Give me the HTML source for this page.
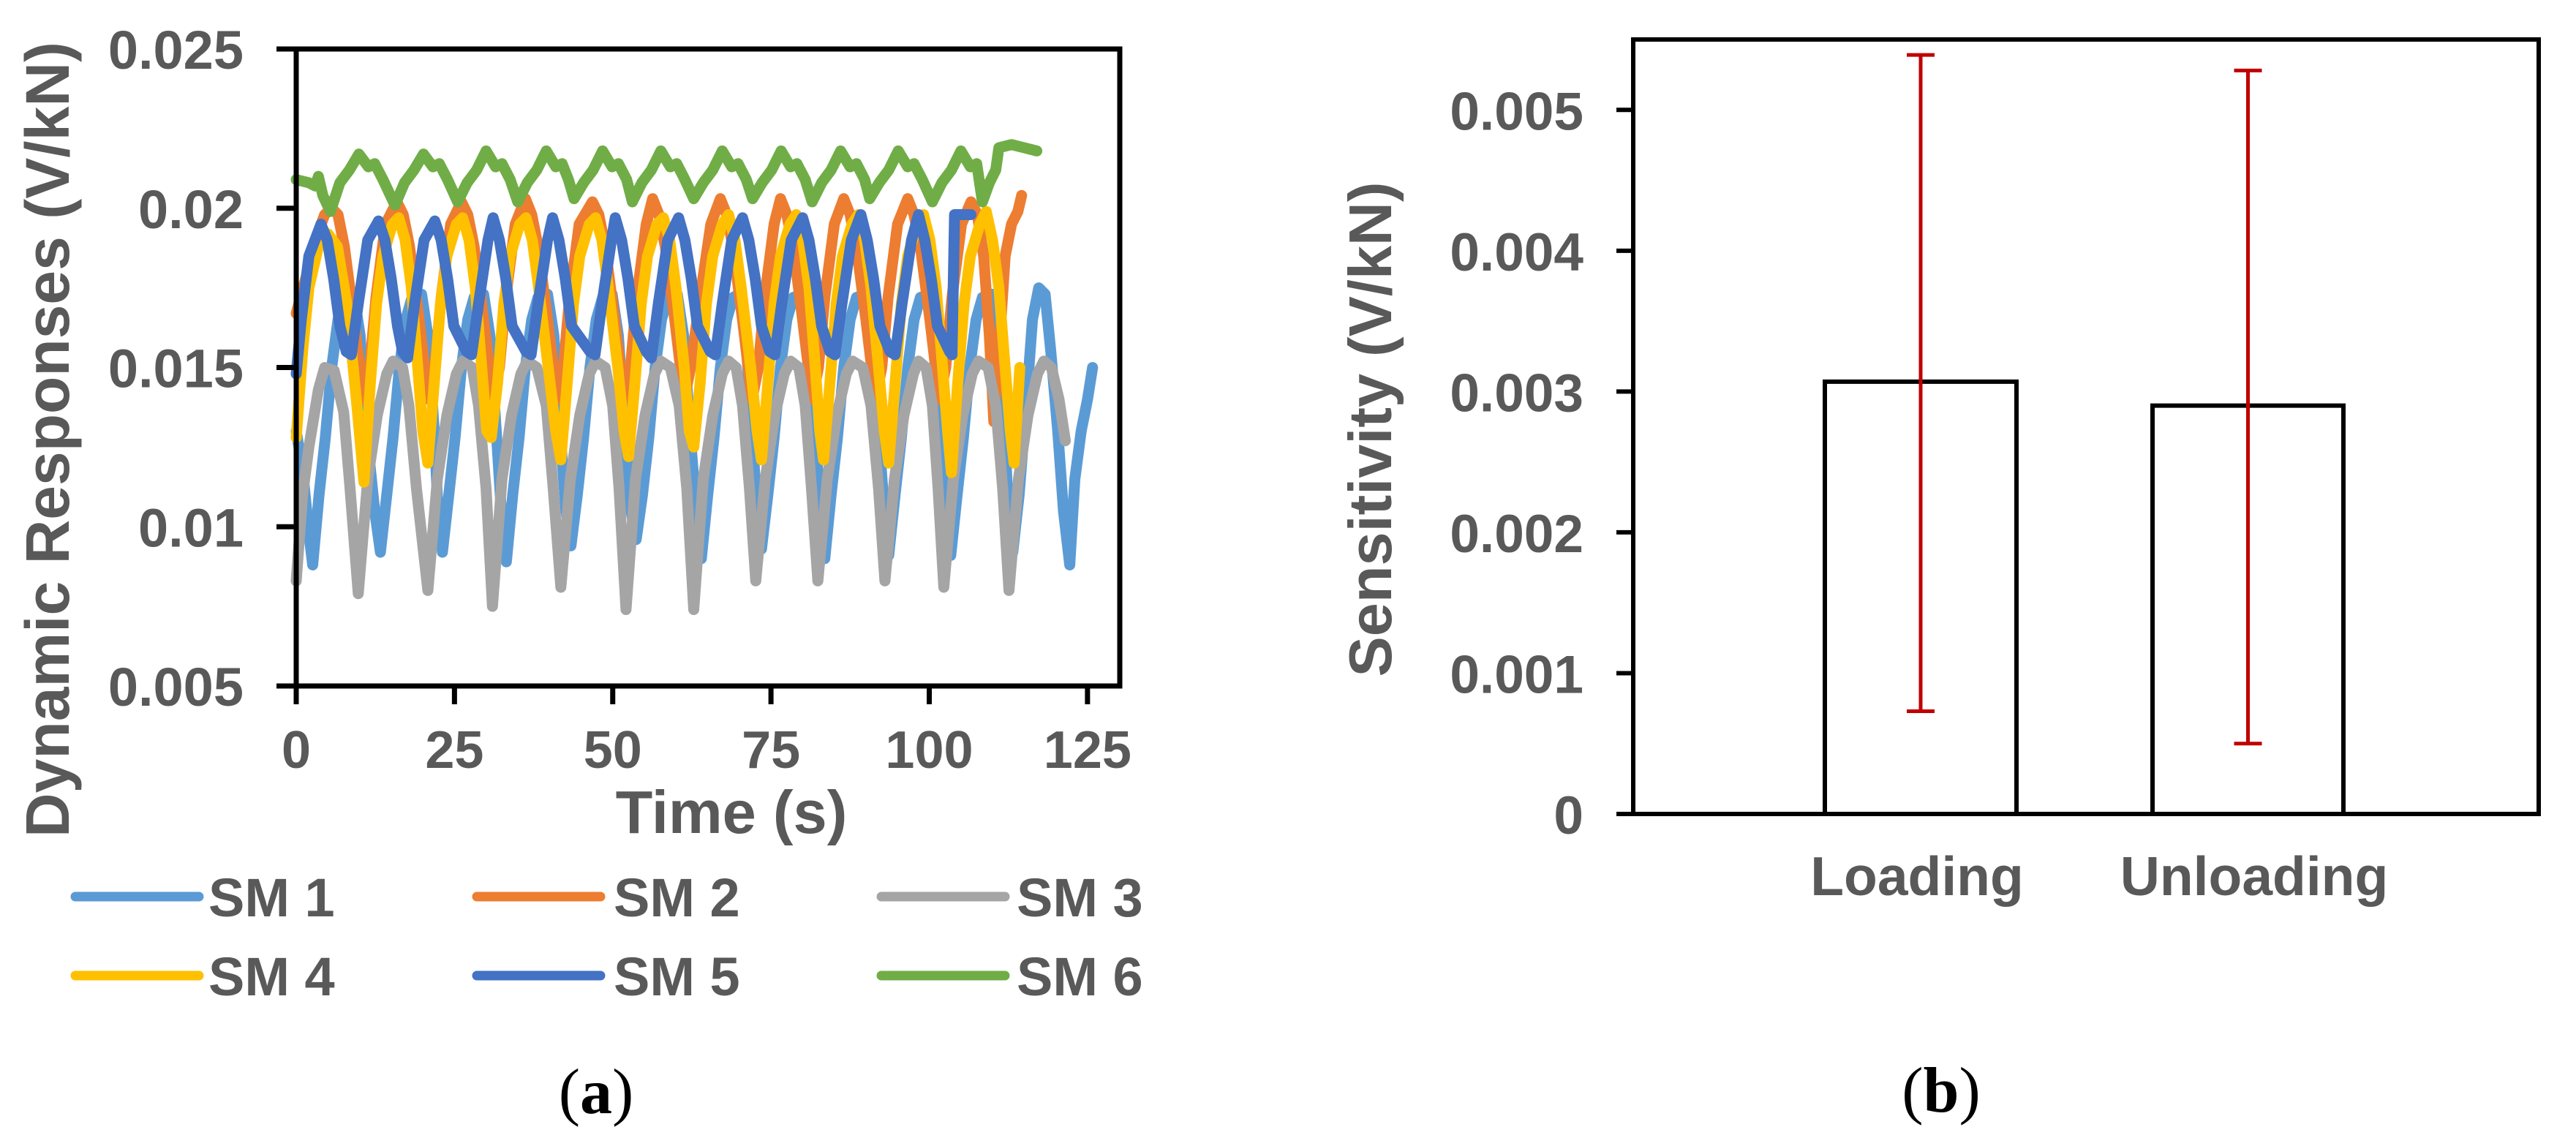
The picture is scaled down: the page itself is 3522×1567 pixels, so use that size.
<!DOCTYPE html>
<html><head><meta charset="utf-8"><style>
html,body{margin:0;padding:0;background:#fff;}
svg{display:block;}
text{font-family:"Liberation Sans",Arial,sans-serif;font-weight:bold;fill:#595959;}
.serif{font-family:"Liberation Serif","Times New Roman",serif;fill:#000;font-weight:normal;}
</style></head><body>
<svg id="fig" width="3522" height="1567" viewBox="0 0 3522 1567" xmlns="http://www.w3.org/2000/svg">
<g id="panelA"></g>
<g id="panelB"></g>
<text class="serif" x="815" y="1522" font-size="88" text-anchor="middle">(<tspan font-weight="bold">a</tspan>)</text>
<text class="serif" x="2654" y="1520" font-size="88" text-anchor="middle">(<tspan font-weight="bold">b</tspan>)</text>
</svg>
<script>
// ---------- Panel A data ----------
const seriesNames = ["SM 1","SM 2","SM 3","SM 4","SM 5","SM 6"];
const seriesColors = ["#5B9BD5","#ED7D31","#A5A5A5","#FFC000","#4472C4","#70AD47"];
const xTicks = [0,25,50,75,100,125];
const yTicks = [0.005,0.01,0.015,0.02,0.025];
const yTickLabels = ["0.005","0.01","0.015","0.02","0.025"];

const sm1T = [0,1,2, 2.6,3.6,4.6,5.6,6.6,7.6,9.1,10.1,11.1,12.4, 13.3,14.3,15.3,16.3,17.3,18.3,19.8,20.8,21.8,22.4, 23.1,24.1,25.1,26.1,27.1,28.1,29.6,30.6,31.6,32.4, 33.2,34.2,35.2,36.2,37.2,38.2,39.7,40.7,41.7,42.6, 43.4,44.4,45.4,46.4,47.4,48.4,49.9,50.9,51.9,52.9, 53.7,54.7,55.7,56.7,57.7,58.7,60.2,61.2,62.2,63.2, 64.0,65.0,66.0,67.0,68.0,69.0,70.0,71.0,72.0,72.8, 73.5,74.5,75.5,76.5,77.5,78.5,80.0,81.0,82.0,82.8, 83.5,84.5,85.5,86.5,87.5,88.5,90.0,91.0,92.0,92.9, 93.6,94.6,95.6,96.6,97.6,98.6,100.1,101.1,102.1,102.7, 103.4,104.4,105.4,106.4,107.4,108.4,109.9,110.9,111.9,112.5, 113.2,114.2,115.2,116.3,117.3,118.3,119.2,120.3,121.2, 122.2,123,124,125,125.8];
const sm1V = [.0130,.0118,.0098, .0088,.0110,.0128,.0150,.0165,.0172,.0173,.0160,.0130,.0105, .0092,.0110,.0128,.0150,.0165,.0172,.0173,.0160,.0130,.0105, .0092,.0110,.0128,.0150,.0165,.0172,.0173,.0160,.0130,.0105, .0089,.0110,.0128,.0150,.0165,.0172,.0173,.0160,.0130,.0105, .0094,.0110,.0128,.0150,.0165,.0172,.0173,.0160,.0130,.0105, .0096,.0110,.0128,.0150,.0165,.0172,.0173,.0160,.0130,.0105, .0090,.0110,.0128,.0150,.0165,.0172,.0173,.0160,.0130,.0105, .0093,.0110,.0128,.0150,.0165,.0172,.0173,.0160,.0130,.0105, .0090,.0110,.0128,.0150,.0165,.0172,.0173,.0160,.0130,.0105, .0091,.0110,.0128,.0150,.0165,.0172,.0173,.0160,.0130,.0105, .0091,.0110,.0128,.0150,.0165,.0172,.0173,.0160,.0130,.0105, .0092,.0110,.0135,.0165,.0175,.0173,.0155,.0130,.0105, .0088,.0115,.0130,.0140,.0150];

const sm2T = [0,1.5,3,4.5, 5.6,6.6,7.6,9.1,10.6,11.6,12.6,14.1, 15.9,16.9,17.9,19.4,20.9,21.9,22.9,24.4, 26.1,27.1,28.1,29.6,31.1,32.1,33.1,34.6, 36.2,37.2,38.2,39.7,41.2,42.2,43.2,44.7, 46.8,47.8,48.8,50.3,51.8,52.8,53.8,55.3, 56.3,57.3,58.3,59.8,61.3,62.3,63.8,65.5, 67.0,68.0,69.0,70.5,72.0,73.0,74.0,75.5, 76.5,77.5,78.5,80.0,81.5,82.5,83.5,85.0, 86.5,87.5,88.5,90.0,91.5,92.5,93.5,95.0, 96.6,97.6,98.6,100.1,101.6,102.6,103.6,105.1, 106.6,107.6,108.6,109.5,110.2,111,112,113,114,114.6];
const sm2V = [.0167,.0178,.0190,.0198, .0200,.0198,.0188,.0165,.0140,.0150,.0172,.0195, .0202,.0198,.0188,.0165,.0140,.0150,.0172,.0195, .0202,.0198,.0188,.0165,.0141,.0150,.0172,.0195, .0203,.0198,.0188,.0165,.0140,.0150,.0172,.0195, .0202,.0198,.0188,.0165,.0140,.0150,.0172,.0195, .0203,.0198,.0188,.0165,.0140,.0150,.0172,.0195, .0203,.0198,.0188,.0165,.0140,.0150,.0172,.0195, .0203,.0198,.0188,.0165,.0140,.0150,.0172,.0195, .0203,.0198,.0188,.0165,.0140,.0150,.0172,.0195, .0203,.0198,.0188,.0165,.0140,.0150,.0172,.0195, .0202,.0198,.0185,.0160,.0133,.0155,.0185,.0195,.0199,.0204];

const sm3T = [0,1,2,3.5,4.5,6,7.5,8.5, 9.8,11.3,12.8,14.3,15.3,16.8,17.8,19.0, 20.8,22.3,23.8,25.3,26.3,27.8,28.8,30.0, 31.0,32.5,34.0,35.5,36.5,38.0,39.5,40.6, 41.8,43.3,44.8,46.3,47.3,48.8,50.0,51.0, 52.1,53.6,55.1,56.6,57.6,59.1,60.5,61.7, 62.8,64.3,65.8,67.3,68.3,69.5,70.5,71.6, 72.6,74.1,75.6,77.1,78.1,79.4,80.4,81.4, 82.4,83.9,85.4,86.9,87.9,89.5,90.8,92.0, 93.0,94.5,96.0,97.5,98.3,99.5,100.5,101.4, 102.3,103.8,105.3,106.8,107.8,109.3,110.5,111.6, 112.6,114.1,115.6,117.1,118.1,119.3,120.5,121.5];
const sm3V = [.0083,.0110,.0125,.0143,.0150,.0149,.0136,.0112, .0079,.0115,.0135,.0148,.0152,.0150,.0138,.0112, .0080,.0115,.0135,.0148,.0152,.0150,.0138,.0112, .0075,.0115,.0135,.0148,.0152,.0150,.0138,.0112, .0081,.0115,.0135,.0148,.0152,.0150,.0138,.0112, .0074,.0115,.0135,.0148,.0152,.0150,.0138,.0112, .0074,.0115,.0135,.0148,.0152,.0150,.0138,.0112, .0083,.0115,.0135,.0148,.0152,.0150,.0138,.0112, .0083,.0115,.0135,.0148,.0152,.0150,.0138,.0112, .0083,.0115,.0135,.0148,.0152,.0150,.0138,.0112, .0081,.0115,.0135,.0148,.0152,.0150,.0138,.0112, .0080,.0115,.0135,.0148,.0152,.0150,.0140,.0127];

const sm4T = [0,1,2,3.5,5,6.5,8,9.5, 10.7,11.7,12.7,13.7,15.2,16.2,17.2,18.2,19.2,20.0, 20.8,21.8,22.8,23.8,25.3,26.3,27.3,28.3,29.3,30.1, 30.8,31.8,32.8,33.8,35.3,36.3,37.3,38.3,39.8,41.0, 41.8,42.8,43.8,44.8,46.3,47.3,48.3,49.3,50.8,51.8, 52.5,53.5,54.5,55.5,57.0,58.0,59.0,60.0,61.3,62.1, 62.8,63.8,64.8,65.8,67.3,68.3,69.3,70.3,71.8,72.8, 73.5,74.5,75.5,76.5,78.0,79.0,80.0,81.0,82.0,82.7, 83.3,84.3,85.3,86.3,87.8,88.8,89.8,90.8,92.0,92.9, 93.6,94.6,95.6,96.6,98.1,99.1,100.1,101.1,102.1,102.9, 103.5,104.5,105.5,106.5,108.0,109.0,110.0,111.0,112.0,112.8, 113.4,114.3];
const sm4V = [.0128,.0155,.0175,.0188,.0192,.0188,.0170,.0140, .0114,.0145,.0170,.0185,.0195,.0197,.0190,.0175,.0150,.0130, .0120,.0145,.0170,.0185,.0195,.0197,.0190,.0175,.0150,.0130, .0128,.0145,.0170,.0185,.0195,.0197,.0190,.0175,.0150,.0130, .0121,.0145,.0170,.0185,.0195,.0197,.0190,.0175,.0150,.0130, .0122,.0145,.0170,.0185,.0195,.0197,.0190,.0175,.0150,.0130, .0125,.0145,.0170,.0185,.0195,.0198,.0190,.0175,.0150,.0130, .0121,.0145,.0170,.0185,.0195,.0198,.0190,.0175,.0150,.0130, .0121,.0145,.0170,.0185,.0195,.0198,.0190,.0175,.0150,.0130, .0120,.0145,.0170,.0185,.0195,.0198,.0190,.0175,.0150,.0130, .0117,.0145,.0170,.0185,.0195,.0199,.0190,.0175,.0150,.0130, .0120,.0150];

const sm5T = [0,0.8,2, 3.9,4.9,5.9,6.9,7.9,8.7,9.8,11.3, 13.0,14.0,15.0,16.0,16.8,17.6,18.7,20.2, 21.9,22.9,23.9,24.9,26.9,27.7,28.8,30.3, 31.1,32.1,33.1,34.1,36.3,37.1,38.2,39.7, 40.5,41.5,42.5,43.5,46.4,47.2,48.3,49.8, 50.4,51.4,52.4,53.4,55.3,56.1,57.2,58.7, 60.4,61.4,62.4,63.4,65.4,66.2,67.3,68.8, 70.5,71.5,72.5,73.5,74.8,75.6,76.7,78.2, 80.0,81.0,82.0,83.0,84.3,85.1,86.2,87.7, 89.2,90.2,91.2,92.2,93.8,94.6,95.7,97.2, 98.3,99.3,100.3,101.3,103.2,103.6,104.0,106.6];
const sm5V = [.0148,.0165,.0185, .0195,.0190,.0178,.0163,.0155,.0154,.0170,.0190, .0196,.0190,.0178,.0163,.0155,.0153,.0170,.0190, .0196,.0190,.0178,.0163,.0155,.0154,.0170,.0190, .0197,.0190,.0178,.0163,.0155,.0154,.0170,.0190, .0197,.0190,.0178,.0163,.0155,.0154,.0170,.0190, .0197,.0190,.0178,.0163,.0155,.0153,.0170,.0190, .0197,.0190,.0178,.0163,.0155,.0154,.0170,.0190, .0197,.0190,.0178,.0163,.0155,.0154,.0170,.0190, .0197,.0190,.0178,.0163,.0155,.0154,.0170,.0190, .0198,.0190,.0178,.0163,.0155,.0154,.0170,.0190, .0198,.0190,.0178,.0163,.0155,.0154,.0198,.0198];

const sm6T = [0,2,3,3.5,4.2, 5.4,6.9,8.4,9.9,11.4,12.4,13.7, 15.6,17.1,18.6,20.1,21.6,22.6,23.9, 25.5,27.0,28.5,30.0,31.5,32.5,33.8, 35.0,36.5,38.0,39.5,41.0,42.0,43.0, 43.9,45.4,46.9,48.4,49.9,50.9,52.2, 53.1,54.6,56.1,57.6,59.1,60.1,61.4, 62.8,64.3,65.8,67.3,68.8,69.8,71.1, 72.1,73.6,75.1,76.6,78.1,79.1,80.4, 81.5,83.0,84.5,86.0,87.5,88.5,89.8, 90.6,92.1,93.6,95.1,96.6,97.6,98.9, 100.5,102.0,103.5,105.0,106.5,107.5, 108.4,109.5,110.5,111,113,115,117];
const sm6V = [.0209,.0208,.0207,.0210,.0204, .0199,.0208,.0212,.0217,.0213,.0214,.0209, .0201,.0208,.0212,.0217,.0213,.0214,.0209, .0202,.0208,.0212,.0218,.0213,.0214,.0209, .0202,.0208,.0212,.0218,.0213,.0214,.0209, .0203,.0208,.0212,.0218,.0213,.0214,.0209, .0202,.0208,.0212,.0218,.0213,.0214,.0209, .0203,.0208,.0212,.0218,.0213,.0214,.0209, .0203,.0208,.0212,.0218,.0213,.0214,.0209, .0202,.0208,.0212,.0218,.0213,.0214,.0209, .0203,.0208,.0212,.0218,.0213,.0214,.0209, .0202,.0208,.0212,.0218,.0213,.0214, .0202,.0208,.0212,.0219,.0220,.0219,.0218];

const seriesT = [sm1T,sm2T,sm3T,sm4T,sm5T,sm6T];
const seriesV = [sm1V,sm2V,sm3V,sm4V,sm5V,sm6V];

// ---------- Panel B data ----------
const barCategories = ["Loading","Unloading"];
const barValues = [0.00307,0.00290];
const errHigh = [0.00539,0.00528];
const errLow = [0.00073,0.00050];
const bTicks = [0,0.001,0.002,0.003,0.004,0.005];
const bTickLabels = ["0","0.001","0.002","0.003","0.004","0.005"];

const NS="http://www.w3.org/2000/svg";
function mk(tag, attrs, parent){const e=document.createElementNS(NS,tag);for(const k in attrs)e.setAttribute(k,attrs[k]);parent.appendChild(e);return e;}

// Panel A axes
const A={x0:405,x1:1531,y0:67,y1:938,tMax:130.1,vMin:0.005,vMax:0.025};
const ax=t=>A.x0+t/A.tMax*(A.x1-A.x0);
const ay=v=>A.y1-(v-A.vMin)/(A.vMax-A.vMin)*(A.y1-A.y0);
const gA=document.getElementById('panelA');

for(let s=0;s<seriesT.length;s++){
  const T=seriesT[s],V=seriesV[s],n=Math.min(T.length,V.length);
  let d='';
  for(let i=0;i<n;i++) d+=(i?'L':'M')+ax(T[i]).toFixed(1)+' '+ay(V[i]).toFixed(1);
  const p=mk('path',{d:d,fill:'none',stroke:seriesColors[s],'stroke-width':15,'stroke-linejoin':'round','stroke-linecap':'round'},gA);
  
  
}
const frameA=mk('rect',{x:A.x0,y:A.y0,width:A.x1-A.x0,height:A.y1-A.y0,fill:'none',stroke:'#000','stroke-width':7},gA);


yTicks.forEach((v,i)=>{
  const y=ay(v);
  const l=mk('line',{x1:378,x2:A.x0,y1:y,y2:y,stroke:'#000','stroke-width':7},gA);
  
  
  const t=mk('text',{x:333,y:y+27,'font-size':74,'text-anchor':'end'},gA);
  t.textContent=yTickLabels[i];
  
  
});
xTicks.forEach(v=>{
  const x=ax(v);
  const l=mk('line',{x1:x,x2:x,y1:A.y1,y2:A.y1+25,stroke:'#000','stroke-width':7},gA);
  
  
  const t=mk('text',{x:x,y:1050,'font-size':72,'text-anchor':'middle'},gA);
  t.textContent=String(v);
  
  
});
const xt=mk('text',{x:1000,y:1139,'font-size':83,'text-anchor':'middle'},gA);
xt.textContent='Time (s)';


const yt=mk('text',{x:0,y:0,'font-size':84,'text-anchor':'middle',transform:'translate(94,601) rotate(-90)',textLength:1088,lengthAdjust:'spacingAndGlyphs'},gA);
yt.textContent='Dynamic Responses (V/kN)';



// Legend
const legCols=[[103,272,285],[652,821,839],[1205,1374,1390]];
const legRows=[1226,1334];
seriesNames.forEach((nm,i)=>{
  const c=legCols[i%3],y=legRows[Math.floor(i/3)];
  const g=mk('g',{},gA);
  
  
  mk('line',{x1:c[0],x2:c[1],y1:y,y2:y,stroke:seriesColors[i],'stroke-width':13,'stroke-linecap':'round'},g);
  const t=mk('text',{x:c[2],y:y+27,'font-size':74},g);
  t.textContent=nm;
});

// Panel B
const B={x0:2233,x1:3471,y0:54,y1:1113,vMax:0.0055};
const by=v=>B.y1-v/B.vMax*(B.y1-B.y0);
const barX=[[2495,2757],[2943,3204]];
const labelX=[2621,3082];
const gB=document.getElementById('panelB');
barCategories.forEach((c,i)=>{
  const x0=barX[i][0],x1=barX[i][1],cx=(x0+x1)/2;
  const r=mk('rect',{x:x0,y:by(barValues[i]),width:x1-x0,height:B.y1-by(barValues[i]),fill:'#fff',stroke:'#000','stroke-width':6},gB);
  
  
  const eg=mk('g',{stroke:'#C00000','stroke-width':5},gB);
  
  
  mk('line',{x1:cx,x2:cx,y1:by(errHigh[i]),y2:by(errLow[i])},eg);
  mk('line',{x1:cx-19,x2:cx+19,y1:by(errHigh[i]),y2:by(errHigh[i])},eg);
  mk('line',{x1:cx-19,x2:cx+19,y1:by(errLow[i]),y2:by(errLow[i])},eg);
  const t=mk('text',{x:labelX[i],y:1224,'font-size':75,'text-anchor':'middle'},gB);
  t.textContent=c;
  
  
});
const frameB=mk('rect',{x:B.x0,y:B.y0,width:B.x1-B.x0,height:B.y1-B.y0,fill:'none',stroke:'#000','stroke-width':6},gB);


bTicks.forEach((v,i)=>{
  const y=by(v);
  const l=mk('line',{x1:2210,x2:B.x0,y1:y,y2:y,stroke:'#000','stroke-width':6},gB);
  
  
  const t=mk('text',{x:2165,y:y+27,'font-size':73,'text-anchor':'end'},gB);
  t.textContent=bTickLabels[i];
  
  
});
const yb=mk('text',{x:0,y:0,'font-size':83,'text-anchor':'middle',transform:'translate(1902,587) rotate(-90)',textLength:677,lengthAdjust:'spacingAndGlyphs'},gB);
yb.textContent='Sensitivity (V/kN)';


</script>
</body></html>
